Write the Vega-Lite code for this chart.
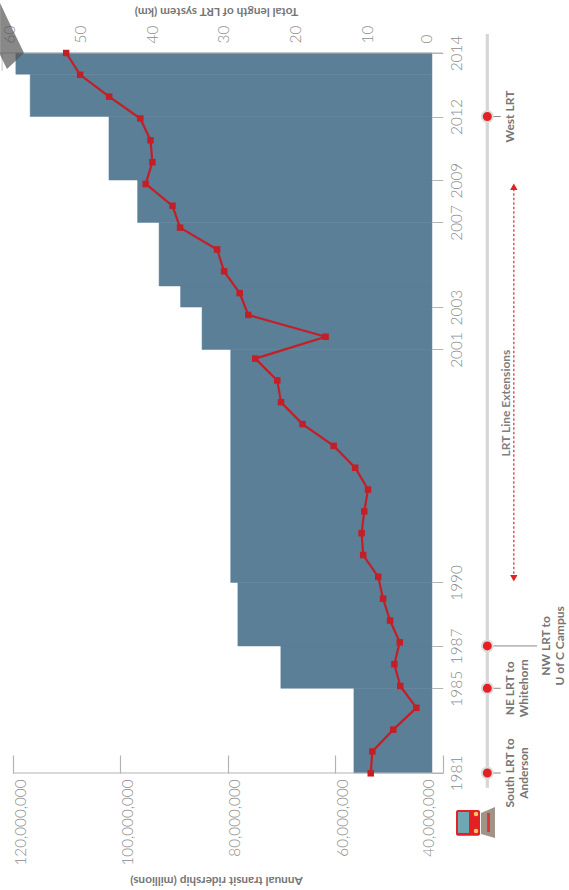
{
  "$schema": "https://vega.github.io/schema/vega-lite/v6.json",
  "width": 569,
  "height": 890,
  "padding": 0,
  "autosize": "none",
  "background": "#ffffff",
  "config": {"view": {"stroke": null}, "text": {"font": "Lato"}},
  "datasets": {
    "ridership": [
      {"year": 1981, "riders": 53400000},
      {"year": 1982, "riders": 53100000},
      {"year": 1983, "riders": 49200000},
      {"year": 1984, "riders": 44900000},
      {"year": 1985, "riders": 47900000},
      {"year": 1986, "riders": 49000000},
      {"year": 1987, "riders": 48000000},
      {"year": 1988, "riders": 49800000},
      {"year": 1989, "riders": 51100000},
      {"year": 1990, "riders": 52000000},
      {"year": 1991, "riders": 54800000},
      {"year": 1992, "riders": 55100000},
      {"year": 1993, "riders": 54600000},
      {"year": 1994, "riders": 53900000},
      {"year": 1995, "riders": 56300000},
      {"year": 1996, "riders": 60300000},
      {"year": 1997, "riders": 66100000},
      {"year": 1998, "riders": 70100000},
      {"year": 1999, "riders": 70800000},
      {"year": 2000, "riders": 74900000},
      {"year": 2001, "riders": 61800000},
      {"year": 2002, "riders": 76200000},
      {"year": 2003, "riders": 77800000},
      {"year": 2004, "riders": 80700000},
      {"year": 2005, "riders": 82000000},
      {"year": 2006, "riders": 88900000},
      {"year": 2007, "riders": 90300000},
      {"year": 2008, "riders": 95300000},
      {"year": 2009, "riders": 94050000},
      {"year": 2010, "riders": 94400000},
      {"year": 2011, "riders": 96300000},
      {"year": 2012, "riders": 102100000},
      {"year": 2013, "riders": 107500000},
      {"year": 2014, "riders": 110100000}
    ],
    "openings": [
      {"year": 1981, "lane": -6.23, "reach": -8.1},
      {"year": 1985, "lane": -6.23, "reach": -8.1},
      {"year": 1987, "lane": -6.23, "reach": -13.17},
      {"year": 2012, "lane": -6.23, "reach": -8.1}
    ]
  },
  "resolve": {"scale": {"x": "independent", "y": "independent"}},
  "layer": [
    {
      "data": {"values": [
        {"start": 1981, "end": 1985, "km": 12.4, "origin": 1.5},
        {"start": 1985, "end": 1987, "km": 22.6, "origin": 1.5},
        {"start": 1987, "end": 1990, "km": 28.6, "origin": 1.5},
        {"start": 1990, "end": 2001, "km": 29.6, "origin": 1.5},
        {"start": 2001, "end": 2003, "km": 33.6, "origin": 1.5},
        {"start": 2003, "end": 2004, "km": 36.6, "origin": 1.5},
        {"start": 2004, "end": 2007, "km": 39.6, "origin": 1.5},
        {"start": 2007, "end": 2009, "km": 42.6, "origin": 1.5},
        {"start": 2009, "end": 2012, "km": 46.6, "origin": 1.5},
        {"start": 2012, "end": 2014, "km": 57.6, "origin": 1.5},
        {"start": 2014, "end": 2015, "km": 59.6, "origin": 1.5}
      ]},
      "mark": {"type": "rect", "fill": "#5a7f97", "stroke": "#5a7f97", "strokeWidth": 0.5},
      "encoding": {
        "x": {
          "field": "km", "type": "quantitative",
          "scale": {"domain": [0, 60], "range": [442.7, 13], "nice": false, "zero": false},
          "axis": {
            "orient": "top", "offset": -53, "values": [0, 10, 20, 30, 40, 50, 60],
            "domain": false, "ticks": false, "grid": false,
            "labelAngle": -90, "labelAlign": "left", "labelBaseline": "middle",
            "labelPadding": 10, "labelFont": "Lato", "labelFontWeight": 300, "labelFontSize": 15.4,
            "labelColor": "#8c8c8c", "labelOverlap": false, "labelBound": false, "labelFlush": false,
            "labelOffset": {"expr": "datum.value == 0 ? -16.7 : -4"},
            "title": "Total length of LRT system (km)",
            "titleAngle": 180, "titleX": 216, "titleY": -42, "titleFont": "Lato", "titleFontSize": 11.8,
            "titleFontWeight": "bold", "titleColor": "#767676", "titleBaseline": "middle", "titleAlign": "center"
          }
        },
        "x2": {"field": "origin"},
        "y": {
          "field": "start", "type": "quantitative",
          "scale": {"domain": [1981, 2015], "range": [773, 53], "nice": false, "zero": false},
          "axis": {
            "orient": "right", "offset": -137.2, "title": null, "grid": false, "domain": false,
            "values": [1981, 1985, 1987, 1990, 2001, 2003, 2007, 2009, 2012, 2015],
            "labelExpr": "datum.value == 2015 ? '2014' : format(datum.value, 'd')",
            "tickColor": "#b5b5b5", "tickSize": 11, "labelPadding": 7,
            "labelAngle": -90, "labelAlign": "center", "labelBaseline": "top",
            "labelFont": "Lato", "labelFontWeight": 300, "labelFontSize": 15.4, "labelColor": "#8c8c8c",
            "labelOverlap": false, "labelBound": false, "labelFlush": false
          }
        },
        "y2": {"field": "end"}
      }
    },
    {
      "layer": [
        {
          "data": {"values": [
            {"year": 2015, "near": 61.8, "far": 0},
            {"year": 1981, "near": 60, "far": 0}
          ]},
          "mark": {"type": "rule", "stroke": "#b3b3b3", "strokeWidth": 1.2},
          "encoding": {
            "x": {"field": "near", "type": "quantitative", "axis": null,
              "scale": {"domain": [0, 60], "range": [442.7, 13], "nice": false, "zero": false}},
            "x2": {"field": "far"},
            "y": {"field": "year", "type": "quantitative", "axis": null,
              "scale": {"domain": [1981, 2015], "range": [773, 53], "nice": false, "zero": false}}
          }
        },
        {
          "data": {"values": [{"km": 61.52, "top": 2015, "bottom": 2014.15}]},
          "mark": {"type": "rule", "stroke": "#d0d0d0", "strokeWidth": 1.2},
          "encoding": {
            "x": {"field": "km", "type": "quantitative", "axis": null},
            "y": {"field": "top", "type": "quantitative", "axis": null},
            "y2": {"field": "bottom"}
          }
        },
        {
          "data": {"values": [
            {"km": 61.8, "top": 2017.36, "bottom": 2014.9},
            {"km": 60.84, "top": 2016.67, "bottom": 2014.25},
            {"km": 58.46, "top": 2015, "bottom": 2015}
          ]},
          "mark": {"type": "area", "orient": "vertical", "fill": "#555555", "opacity": 0.7},
          "encoding": {
            "x": {"field": "km", "type": "quantitative", "axis": null},
            "y": {"field": "top", "type": "quantitative", "axis": null},
            "y2": {"field": "bottom"}
          }
        },
        {
          "data": {"values": [{"lane": -6.23, "from": 1980.3, "to": 2015.9}]},
          "mark": {"type": "rule", "stroke": "#d6d6d6", "strokeWidth": 3.2},
          "encoding": {
            "x": {"field": "lane", "type": "quantitative", "axis": null},
            "y": {"field": "from", "type": "quantitative", "axis": null},
            "y2": {"field": "to"}
          }
        },
        {
          "data": {"name": "openings"},
          "mark": {"type": "rule", "stroke": "#8a8a8a", "strokeWidth": 1},
          "encoding": {
            "x": {"field": "lane", "type": "quantitative", "axis": null},
            "x2": {"field": "reach"},
            "y": {"field": "year", "type": "quantitative", "axis": null}
          }
        },
        {
          "data": {"name": "openings"},
          "mark": {"type": "point", "shape": "circle", "filled": true, "fill": "#e32124", "stroke": "#dcdcdc", "strokeWidth": 2, "size": 120, "opacity": 1},
          "encoding": {
            "x": {"field": "lane", "type": "quantitative", "axis": null},
            "y": {"field": "year", "type": "quantitative", "axis": null}
          }
        },
        {
          "data": {"values": [
            {"year": 1981, "lane": -8.7, "name": "South LRT to\nAnderson"},
            {"year": 1985, "lane": -8.7, "name": "NE LRT to\nWhitehorn"},
            {"year": 2012, "lane": -8.7, "name": "West LRT"},
            {"year": 1987, "lane": -13.73, "name": "NW LRT to\nU of C Campus"}
          ]},
          "mark": {"type": "text", "font": "Lato", "fontWeight": "bold", "fontSize": 12, "color": "#767676", "angle": -90, "align": "center", "baseline": "top", "lineBreak": "\n", "lineHeight": 13.6},
          "encoding": {
            "x": {"field": "lane", "type": "quantitative", "axis": null},
            "y": {"field": "year", "type": "quantitative", "axis": null},
            "text": {"field": "name"}
          }
        },
        {
          "data": {"values": [{"year": 1998.47, "lane": -8.77, "name": "LRT Line Extensions"}]},
          "mark": {"type": "text", "font": "Lato", "fontWeight": "bold", "fontSize": 12, "color": "#808080", "angle": -90, "align": "center", "baseline": "middle"},
          "encoding": {
            "x": {"field": "lane", "type": "quantitative", "axis": null},
            "y": {"field": "year", "type": "quantitative", "axis": null},
            "text": {"field": "name"}
          }
        },
        {
          "data": {"values": [{"lane": -9.93, "from": 1990.2, "to": 2008.7}]},
          "mark": {"type": "rule", "stroke": "#e8383b", "strokeWidth": 1.3, "strokeDash": [2.5, 2]},
          "encoding": {
            "x": {"field": "lane", "type": "quantitative", "axis": null},
            "y": {"field": "from", "type": "quantitative", "axis": null},
            "y2": {"field": "to"}
          }
        },
        {
          "data": {"values": [{"lane": -9.93, "year": 2008.68}]},
          "mark": {"type": "point", "shape": "triangle-up", "filled": true, "fill": "#e32124", "size": 55, "opacity": 1},
          "encoding": {
            "x": {"field": "lane", "type": "quantitative", "axis": null},
            "y": {"field": "year", "type": "quantitative", "axis": null}
          }
        },
        {
          "data": {"values": [{"lane": -9.93, "year": 1990.2}]},
          "mark": {"type": "point", "shape": "triangle-down", "filled": true, "fill": "#e32124", "size": 55, "opacity": 1},
          "encoding": {
            "x": {"field": "lane", "type": "quantitative", "axis": null},
            "y": {"field": "year", "type": "quantitative", "axis": null}
          }
        },
        {
          "data": {"values": [
            {"km": -5.35, "top": 1979.11, "bottom": 1978.12},
            {"km": -7.3, "top": 1979.39, "bottom": 1977.93}
          ]},
          "mark": {"type": "area", "orient": "vertical", "fill": "#a09388"},
          "encoding": {
            "x": {"field": "km", "type": "quantitative", "axis": null},
            "y": {"field": "top", "type": "quantitative", "axis": null},
            "y2": {"field": "bottom"}
          }
        },
        {
          "data": {"values": [{"a": -6.2, "b": -6.6, "top": 1979.11, "bottom": 1978.21}]},
          "mark": {"type": "rect", "fill": "#d9363a"},
          "encoding": {
            "x": {"field": "a", "type": "quantitative", "axis": null},
            "x2": {"field": "b"},
            "y": {"field": "top", "type": "quantitative", "axis": null},
            "y2": {"field": "bottom"}
          }
        },
        {
          "data": {"values": [{"a": -1.86, "b": -5.21, "top": 1979.25, "bottom": 1978.04}]},
          "mark": {"type": "rect", "fill": "#e32124", "cornerRadius": 2},
          "encoding": {
            "x": {"field": "a", "type": "quantitative", "axis": null},
            "x2": {"field": "b"},
            "y": {"field": "top", "type": "quantitative", "axis": null},
            "y2": {"field": "bottom"}
          }
        },
        {
          "data": {"values": [{"a": -2.14, "b": -3.67, "top": 1979.16, "bottom": 1978.17}]},
          "mark": {"type": "rect", "fill": "#6fa8b5"},
          "encoding": {
            "x": {"field": "a", "type": "quantitative", "axis": null},
            "x2": {"field": "b"},
            "y": {"field": "top", "type": "quantitative", "axis": null},
            "y2": {"field": "bottom"}
          }
        },
        {
          "data": {"values": [{"km": -4.65, "year": 1979.06}, {"km": -4.65, "year": 1978.26}]},
          "mark": {"type": "point", "shape": "circle", "filled": true, "fill": "#f7c95c", "size": 20, "opacity": 1},
          "encoding": {
            "x": {"field": "km", "type": "quantitative", "axis": null},
            "y": {"field": "year", "type": "quantitative", "axis": null}
          }
        }
      ]
    },
    {
      "data": {"name": "ridership"},
      "encoding": {
        "x": {
          "field": "riders", "type": "quantitative",
          "scale": {"domain": [40000000, 120000000], "range": [442.7, 13], "nice": false, "zero": false},
          "axis": {
            "orient": "bottom", "offset": -117, "values": [60000000, 80000000, 100000000, 120000000, 40000000],
            "labelExpr": "format(datum.value, ',')", "domain": false, "grid": false,
            "tickColor": "#b3b3b3", "tickSize": -18, "tickWidth": 1.2,
            "labelAngle": -90, "labelAlign": "right", "labelBaseline": "top", "labelPadding": 24,
            "labelFont": "Lato", "labelFontWeight": 300, "labelFontSize": 15.2, "labelColor": "#8c8c8c",
            "labelOverlap": false, "labelBound": false, "labelFlush": false,
            "labelOffset": {"expr": "datum.value == 40000000 ? -21.7 : 0"},
            "title": "Annual transit ridership (millions)",
            "titleAngle": 180, "titleX": 216, "titleY": 107, "titleFont": "Lato", "titleFontSize": 11.8,
            "titleFontWeight": "bold", "titleColor": "#767676", "titleBaseline": "middle", "titleAlign": "center"
          }
        },
        "y": {
          "field": "year", "type": "quantitative",
          "scale": {"domain": [1981, 2014], "range": [773.3, 53], "nice": false, "zero": false},
          "axis": null
        }
      },
      "layer": [
        {"mark": {"type": "line", "stroke": "#c41f26", "strokeWidth": 2.2, "orient": "horizontal"}},
        {"mark": {"type": "point", "shape": "square", "filled": true, "fill": "#c41f26", "size": 42, "opacity": 1}}
      ]
    }
  ]
}
